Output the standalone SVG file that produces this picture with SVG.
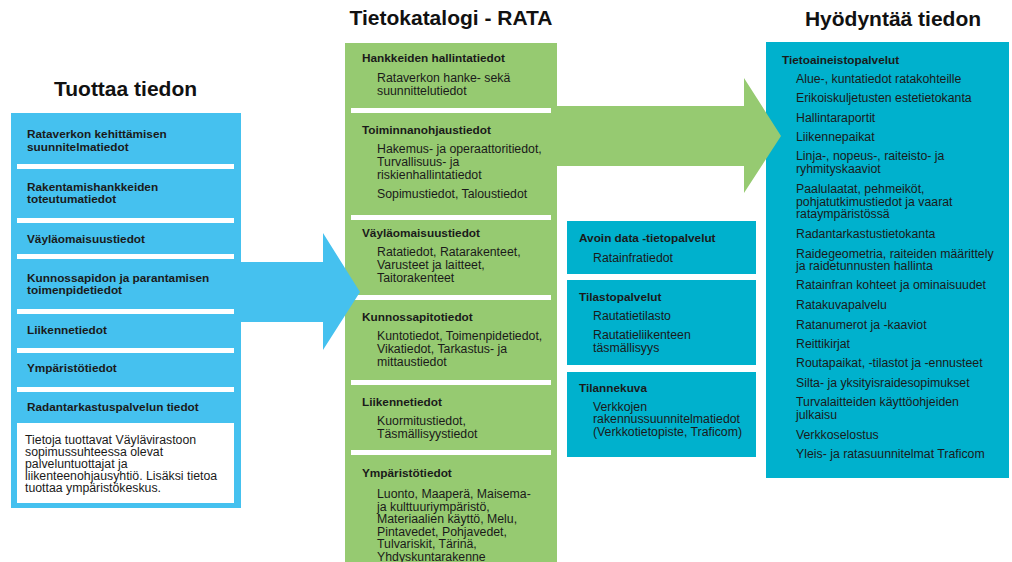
<svg xmlns="http://www.w3.org/2000/svg" width="1012" height="562" viewBox="0 0 1012 562">
<style>
.h{font-family:"Liberation Sans",Arial,sans-serif;font-weight:bold;font-size:21px;fill:#111;text-anchor:middle}
.b{font-family:"Liberation Sans",Arial,sans-serif;font-weight:bold;font-size:11.8px;fill:#1a1a1a}
.t{font-family:"Liberation Sans",Arial,sans-serif;font-size:12.3px;fill:#1a1a1a}
.blue{fill:#45c1ef}
.green{fill:#96ca71}
.teal{fill:#00b1cd}
.sep{fill:#fff}
</style>
<rect width="1012" height="562" fill="#fff"/>

<g id="header-tuottaa"><text class="h" x="125.5" y="96">Tuottaa tiedon</text></g>
<g id="header-tietokatalogi"><text class="h" x="451" y="25">Tietokatalogi - RATA</text></g>
<g id="header-hyodyntaa"><text class="h" x="893" y="26">Hyödyntää tiedon</text></g>

<g id="tuottaa">
<rect class="blue" x="11" y="113" width="230" height="395"/>
<rect class="sep" x="17" y="164" width="217" height="5"/>
<rect class="sep" x="17" y="218" width="217" height="5"/>
<rect class="sep" x="17" y="254" width="217" height="5"/>
<rect class="sep" x="17" y="309" width="217" height="5"/>
<rect class="sep" x="17" y="348" width="217" height="5"/>
<rect class="sep" x="17" y="387" width="217" height="5"/>
<rect class="sep" x="17" y="423" width="217" height="80"/>
<text class="b" x="27" y="138">Rataverkon kehittämisen</text>
<text class="b" x="27" y="151">suunnitelmatiedot</text>
<text class="b" x="27" y="190.5">Rakentamishankkeiden</text>
<text class="b" x="27" y="203">toteutumatiedot</text>
<text class="b" x="27" y="242.5">Väyläomaisuustiedot</text>
<text class="b" x="27" y="281.5">Kunnossapidon ja parantamisen</text>
<text class="b" x="27" y="294">toimenpidetiedot</text>
<text class="b" x="27" y="334">Liikennetiedot</text>
<text class="b" x="27" y="371.5">Ympäristötiedot</text>
<text class="b" x="27" y="410.5">Radantarkastuspalvelun tiedot</text>
<text class="t" x="25" y="443.5">Tietoja tuottavat Väylävirastoon</text>
<text class="t" x="25" y="455.5">sopimussuhteessa olevat</text>
<text class="t" x="25" y="467.5">palveluntuottajat ja</text>
<text class="t" x="25" y="479.5">liikenteenohjausyhtiö. Lisäksi tietoa</text>
<text class="t" x="25" y="491.5">tuottaa ympäristökeskus.</text>
</g>

<g id="tietokatalogi">
<rect class="green" x="345" y="43" width="212" height="519"/>
<rect class="sep" x="351" y="108" width="200" height="5"/>
<rect class="sep" x="351" y="215" width="200" height="5"/>
<rect class="sep" x="351" y="295" width="200" height="5"/>
<rect class="sep" x="351" y="380" width="200" height="5"/>
<rect class="sep" x="351" y="450" width="200" height="5"/>
<text class="b" x="362" y="62">Hankkeiden hallintatiedot</text>
<text class="t" x="377" y="82">Rataverkon hanke- sekä</text>
<text class="t" x="377" y="94.5">suunnittelutiedot</text>
<text class="b" x="362" y="133.5">Toiminnanohjaustiedot</text>
<text class="t" x="377" y="153">Hakemus- ja operaattoritiedot,</text>
<text class="t" x="377" y="166">Turvallisuus- ja</text>
<text class="t" x="377" y="179">riskienhallintatiedot</text>
<text class="t" x="377" y="198">Sopimustiedot, Taloustiedot</text>
<text class="b" x="362" y="236.5">Väyläomaisuustiedot</text>
<text class="t" x="377" y="255.5">Ratatiedot, Ratarakenteet,</text>
<text class="t" x="377" y="268.5">Varusteet ja laitteet,</text>
<text class="t" x="377" y="281.5">Taitorakenteet</text>
<text class="b" x="362" y="320.5">Kunnossapitotiedot</text>
<text class="t" x="377" y="340">Kuntotiedot, Toimenpidetiedot,</text>
<text class="t" x="377" y="353">Vikatiedot, Tarkastus- ja</text>
<text class="t" x="377" y="366">mittaustiedot</text>
<text class="b" x="362" y="406">Liikennetiedot</text>
<text class="t" x="377" y="425">Kuormitustiedot,</text>
<text class="t" x="377" y="438">Täsmällisyystiedot</text>
<text class="b" x="362" y="476.5">Ympäristötiedot</text>
<text class="t" x="377" y="498">Luonto, Maaperä, Maisema-</text>
<text class="t" x="377" y="510.5">ja kulttuuriympäristö,</text>
<text class="t" x="377" y="523">Materiaalien käyttö, Melu,</text>
<text class="t" x="377" y="535.5">Pintavedet, Pohjavedet,</text>
<text class="t" x="377" y="548">Tulvariskit, Tärinä,</text>
<text class="t" x="377" y="560.5">Yhdyskuntarakenne</text>
</g>

<g id="avoin-data">
<rect class="teal" x="567" y="221" width="189" height="53"/>
<text class="b" x="579" y="241.5">Avoin data -tietopalvelut</text>
<text class="t" x="593" y="261.5">Ratainfratiedot</text>
</g>
<g id="tilastopalvelut">
<rect class="teal" x="567" y="280" width="189" height="85"/>
<text class="b" x="579" y="301">Tilastopalvelut</text>
<text class="t" x="593" y="319.5">Rautatietilasto</text>
<text class="t" x="593" y="339">Rautatieliikenteen</text>
<text class="t" x="593" y="351.5">täsmällisyys</text>
</g>
<g id="tilannekuva">
<rect class="teal" x="567" y="372" width="189" height="85"/>
<text class="b" x="579" y="391.5">Tilannekuva</text>
<text class="t" x="593" y="410.5">Verkkojen</text>
<text class="t" x="593" y="422.5">rakennussuunnitelmatiedot</text>
<text class="t" x="593" y="435.5">(Verkkotietopiste, Traficom)</text>
</g>

<g id="tietoaineistopalvelut">
<rect class="teal" x="766" y="42" width="243" height="436"/>
<text class="b" x="782" y="63.5">Tietoaineistopalvelut</text>
<text class="t" x="796" y="82.5">Alue-, kuntatiedot ratakohteille</text>
<text class="t" x="796" y="101.5">Erikoiskuljetusten estetietokanta</text>
<text class="t" x="796" y="121.5">Hallintaraportit</text>
<text class="t" x="796" y="140.5">Liikennepaikat</text>
<text class="t" x="796" y="160">Linja-, nopeus-, raiteisto- ja</text>
<text class="t" x="796" y="172.5">ryhmityskaaviot</text>
<text class="t" x="796" y="193">Paalulaatat, pehmeiköt,</text>
<text class="t" x="796" y="205.5">pohjatutkimustiedot ja vaarat</text>
<text class="t" x="796" y="218">rataympäristössä</text>
<text class="t" x="796" y="237.5">Radantarkastustietokanta</text>
<text class="t" x="796" y="257.5">Raidegeometria, raiteiden määrittely</text>
<text class="t" x="796" y="270">ja raidetunnusten hallinta</text>
<text class="t" x="796" y="289">Ratainfran kohteet ja ominaisuudet</text>
<text class="t" x="796" y="309">Ratakuvapalvelu</text>
<text class="t" x="796" y="328.5">Ratanumerot ja -kaaviot</text>
<text class="t" x="796" y="347.5">Reittikirjat</text>
<text class="t" x="796" y="367">Routapaikat, -tilastot ja -ennusteet</text>
<text class="t" x="796" y="386.5">Silta- ja yksityisraidesopimukset</text>
<text class="t" x="796" y="406">Turvalaitteiden käyttöohjeiden</text>
<text class="t" x="796" y="418.5">julkaisu</text>
<text class="t" x="796" y="439">Verkkoselostus</text>
<text class="t" x="796" y="458">Yleis- ja ratasuunnitelmat Traficom</text>
</g>

<g id="connectors">
<polygon class="blue" points="241,262 323,262 323,233 360,292 323,350 323,322 241,322"/>
<polygon class="green" points="556,106 744,106 744,78 781,136 744,193 744,166 556,166"/>
</g>
</svg>
